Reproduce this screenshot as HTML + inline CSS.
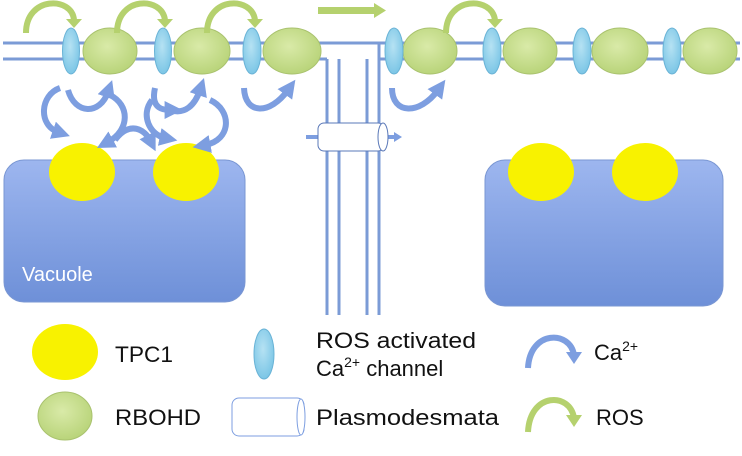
<!DOCTYPE html>
<html><head><meta charset="utf-8"><style>
html,body{margin:0;padding:0;background:#fff}
svg{display:block}
text{font-family:"Liberation Sans",sans-serif;fill:#111}
</style></head><body>
<svg width="742" height="456" viewBox="0 0 742 456">
<defs>
<linearGradient id="vac" x1="0" y1="0" x2="0" y2="1"><stop offset="0" stop-color="#9db6ef"/><stop offset="1" stop-color="#6e90d8"/></linearGradient>
<radialGradient id="grn" cx="0.45" cy="0.4" r="0.6"><stop offset="0" stop-color="#d9eaa8"/><stop offset="1" stop-color="#b9d47a"/></radialGradient>
<radialGradient id="blu" cx="0.45" cy="0.4" r="0.6"><stop offset="0" stop-color="#b6e2f3"/><stop offset="1" stop-color="#7cc6e6"/></radialGradient>
<marker id="ah" viewBox="0 0 10 10" refX="3" refY="5" markerWidth="3" markerHeight="3" orient="auto"><path d="M0,0 L10,5 L0,10 z" fill="#7d9ee0"/></marker>
</defs>
<g stroke="#7b9bd6" stroke-width="3" fill="none">
<line x1="3" y1="43" x2="740" y2="43"/><line x1="3" y1="59" x2="327" y2="59"/>
<line x1="380" y1="59" x2="740" y2="59"/>
<line x1="327" y1="59" x2="327" y2="315"/><line x1="339" y1="59" x2="339" y2="315"/>
<line x1="367" y1="59" x2="367" y2="315"/><line x1="379" y1="43" x2="379" y2="315"/>
</g>
<rect x="4" y="160" width="241" height="142" rx="20" fill="url(#vac)" stroke="#7a97d3"/>
<rect x="485" y="160" width="238" height="146" rx="20" fill="url(#vac)" stroke="#7a97d3"/>
<text x="22" y="281" font-size="20" style="fill:#fff">Vacuole</text>
<g fill="#f8f200">
<ellipse cx="82" cy="172" rx="33" ry="29"/><ellipse cx="186" cy="172" rx="33" ry="29"/>
<ellipse cx="541" cy="172" rx="33" ry="29"/><ellipse cx="645" cy="172" rx="33" ry="29"/>
</g>
<g fill="url(#grn)" stroke="#a9c26e">
<ellipse cx="110" cy="51" rx="27" ry="23"/><ellipse cx="202" cy="51" rx="28" ry="23"/><ellipse cx="292" cy="51" rx="29" ry="23"/>
<ellipse cx="430" cy="51" rx="27" ry="23"/><ellipse cx="530" cy="51" rx="27" ry="23"/><ellipse cx="620" cy="51" rx="28" ry="23"/><ellipse cx="710" cy="51" rx="27" ry="23"/>
</g>
<g fill="url(#blu)" stroke="#6ab3d6">
<ellipse cx="71" cy="51" rx="8.5" ry="23"/><ellipse cx="163" cy="51" rx="8.5" ry="23"/><ellipse cx="252" cy="51" rx="9" ry="23"/>
<ellipse cx="394" cy="51" rx="9" ry="23"/><ellipse cx="492" cy="51" rx="9" ry="23"/><ellipse cx="582" cy="51" rx="9" ry="23"/><ellipse cx="672" cy="51" rx="9" ry="23"/>
</g>
<g fill="none" stroke="#b5d16e" stroke-width="6">
<path d="M26 33 C26 -4 72 -4 74 20"/><path d="M117 33 C117 -4 162 -4 165 20"/><path d="M207 33 C207 -4 252 -4 255 20"/><path d="M446 33 C446 -4 492 -4 495 20"/>
</g>
<g fill="#b5d16e">
<polygon points="66,19 82,19 74,28"/><polygon points="157,19 173,19 165,28"/><polygon points="247,19 263,19 255,28"/><polygon points="487,19 503,19 495,28"/>
<rect x="318" y="7" width="58" height="7"/><polygon points="374,3 386,10.5 374,18"/>
</g>
<g fill="none" stroke="#7d9ee0" stroke-width="6" marker-end="url(#ah)">
<path d="M60 88 C40 95 38 125 58 132"/><path d="M68 90 C75 115 100 115 108 92"/>
<path d="M110 95 C130 105 130 130 108 142"/><path d="M115 140 C130 120 145 130 150 140"/>
<path d="M155 88 C150 110 165 110 170 110"/><path d="M170 110 C185 115 195 105 200 90"/>
<path d="M152 100 C140 115 150 135 165 138"/><path d="M210 100 C232 110 232 140 205 145"/>
<path d="M244 88 C245 115 270 115 288 90"/><path d="M392 88 C392 115 420 115 438 90"/>
</g>
<g>
<line x1="306" y1="137" x2="396" y2="137" stroke="#7d9ee0" stroke-width="4"/><polygon points="394,132 402,137 394,142" fill="#7d9ee0"/>
<rect x="318" y="123" width="66" height="28" rx="6" fill="#fff" stroke="#5a78b8"/>
<ellipse cx="383" cy="137" rx="5" ry="14" fill="#fff" stroke="#5a78b8"/>
</g>
<g>
<ellipse cx="65" cy="352" rx="33" ry="28" fill="#f8f200"/>
<text x="115" y="362" font-size="22" textLength="58" lengthAdjust="spacingAndGlyphs">TPC1</text>
<ellipse cx="65" cy="416" rx="27" ry="24" fill="url(#grn)" stroke="#a9c26e"/>
<text x="115" y="425" font-size="22" textLength="86" lengthAdjust="spacingAndGlyphs">RBOHD</text>
<ellipse cx="264" cy="354" rx="10" ry="25" fill="url(#blu)" stroke="#6ab3d6"/>
<text x="316" y="348" font-size="22" textLength="160" lengthAdjust="spacingAndGlyphs">ROS activated</text>
<text x="316" y="376" font-size="22">Ca<tspan font-size="14" dy="-9">2+</tspan><tspan dy="9"> channel</tspan></text>
<g>
<rect x="232" y="398" width="72" height="38" rx="7" fill="#fff" stroke="#7d9ee0"/>
<ellipse cx="301" cy="417" rx="4" ry="18" fill="#fff" stroke="#7d9ee0"/>
</g>
<text x="316" y="425" font-size="22" textLength="183" lengthAdjust="spacingAndGlyphs">Plasmodesmata</text>
<path d="M528 368 C530 330 570 330 574 355" fill="none" stroke="#7d9ee0" stroke-width="6"/>
<polygon points="566,352 582,352 574,364" fill="#7d9ee0"/>
<text x="594" y="360" font-size="22">Ca<tspan font-size="14" dy="-9">2+</tspan></text>
<path d="M528 432 C530 392 570 392 574 418" fill="none" stroke="#b5d16e" stroke-width="6"/>
<polygon points="566,415 582,415 574,427" fill="#b5d16e"/>
<text x="596" y="425" font-size="22">ROS</text>
</g>
</svg>
</body></html>
